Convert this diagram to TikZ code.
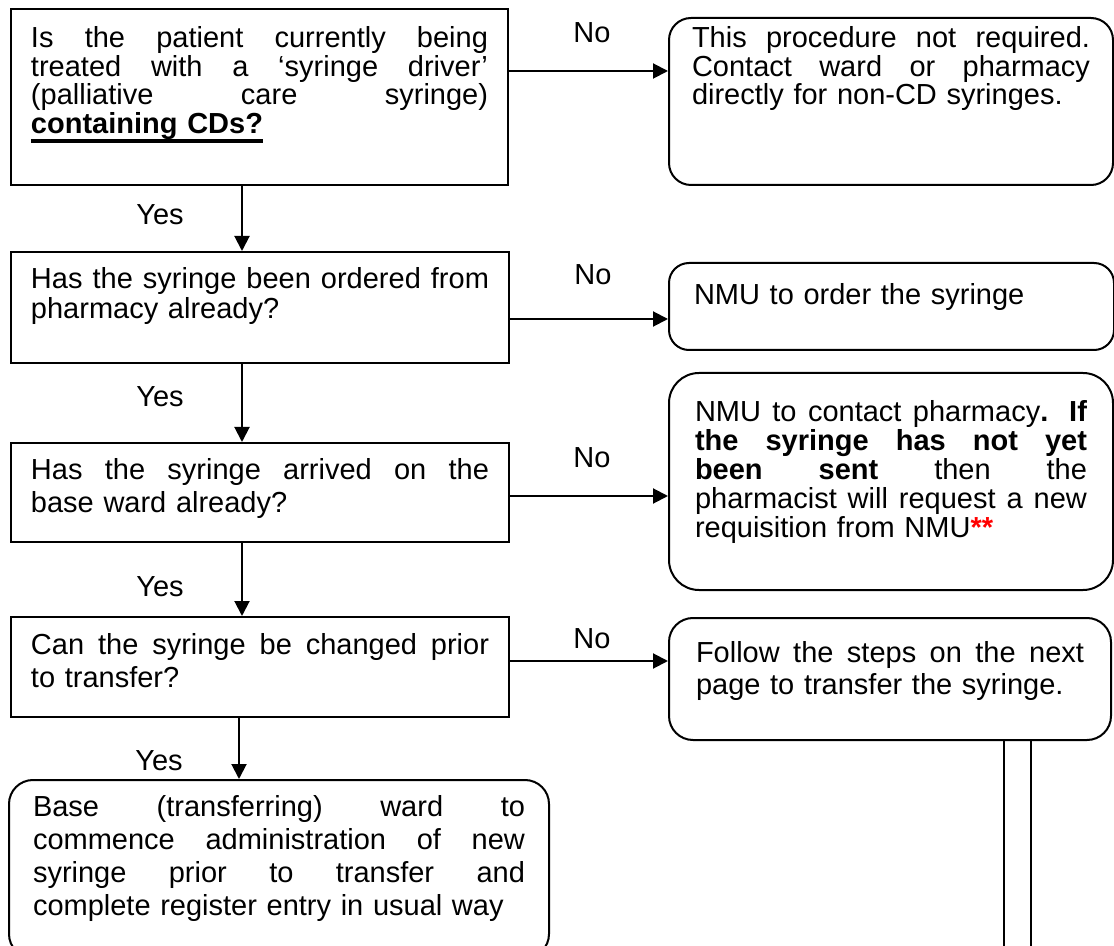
\documentclass[tikz,border=0pt]{standalone}
\usepackage{fontspec}
\setmainfont{Liberation Sans}
\usetikzlibrary{arrows.meta}
\newcommand\jl[2]{\leavevmode\hbox to #1{\spaceskip=0pt\xspaceskip=0pt\relax #2}}
\newcommand\fs[1]{\fontsize{14.5pt}{#1}\selectfont}
\newcommand\thickul[1]{\leavevmode\setbox0\hbox{#1}\rlap{\rule[-4.6pt]{\wd0}{1.6pt}}\box0}
\begin{document}
\begin{tikzpicture}[x=0.5pt,y=-0.5pt,
  every node/.style={font=\fs{17pt}},
  box/.style={draw, line width=1pt, inner ysep=0pt, align=left, anchor=base west},
  arr/.style={line width=1pt, -{Triangle[length=7.5pt,width=7.5pt]}},
  lbl/.style={inner sep=0pt}]
\useasboundingbox (0,0) rectangle (1114,946);
\clip (0,0) rectangle (1114,946);

% left column
\node[box, font=\fs{14.25pt}, text width=228.5pt, inner xsep=10pt, text height=19.5pt, text depth=68.5pt] (q1) at (10,48)
 {\jl{228.5pt}{Is the patient currently being}\\
  \jl{228.5pt}{treated with a ‘syringe driver’}\\
  \jl{228.5pt}{(palliative care syringe)}\\
  \thickul{\textbf{containing CDs?}}};
\node[box, font=\fs{15pt}, text width=229pt, inner xsep=10pt, text height=18.5pt, text depth=37pt] (q2) at (10,289)
 {\jl{229pt}{Has the syringe been ordered from}\\
  pharmacy already?};
\node[box, font=\fs{16.5pt}, text width=229pt, inner xsep=10pt, text height=18.5pt, text depth=31pt] (q3) at (10,480)
 {\jl{229pt}{Has the syringe arrived on the}\\
  base ward already?};
\node[box, font=\fs{16.5pt}, text width=229pt, inner xsep=10pt, text height=18.5pt, text depth=31.5pt] (q4) at (10,654)
 {\jl{229pt}{Can the syringe be changed prior}\\
  to transfer?};
\node[box, font=\fs{16.5pt}, rounded corners=12pt, text width=246pt, inner xsep=12pt, text height=18pt, text depth=71pt] (r5) at (8,816)
 {\jl{246pt}{Base (transferring) ward to}\\
  \jl{246pt}{commence administration of new}\\
  \jl{246pt}{syringe prior to transfer and}\\
  complete register entry in usual way};

% right column
\node[box, font=\fs{14.25pt}, rounded corners=11pt, text width=199pt, inner xsep=11.5pt, text height=15pt, text depth=68.5pt] (r1) at (668,48)
 {\jl{199pt}{This procedure not required.}\\
  \jl{199pt}{Contact ward or pharmacy}\\
  directly for non-CD syringes.};
\node[box, rounded corners=10pt, text width=197.5pt, inner xsep=12.5pt, text height=21pt, text depth=22.5pt] (r2) at (668,305)
 {NMU to order the syringe};
\node[box, font=\fs{14.5pt}, rounded corners=15pt, text width=196pt, inner xsep=13pt, text height=24.5pt, text depth=84pt] (r3) at (668,422)
 {\jl{196pt}{NMU to contact pharmacy\textbf{. If}}\\
  \jl{196pt}{\textbf{the syringe has not yet}}\\
  \jl{196pt}{\textbf{been sent} then the}\\
  \jl{196pt}{pharmacist will request a new}\\
  requisition from NMU\textcolor{red}{\textbf{**}}};
\node[box, font=\fs{16pt}, rounded corners=12pt, text width=194pt, inner xsep=13.5pt, text height=22pt, text depth=39pt] (r4) at (668,662)
 {\jl{194pt}{Follow the steps on the next}\\
  page to transfer the syringe.};

% labels
\node[lbl] (no1) at (592,33) {No};
\node[lbl] (no2) at (593,275) {No};
\node[lbl] (no3) at (592,458) {No};
\node[lbl] (no4) at (592,639) {No};
\node[lbl] (yes1) at (160,215) {Yes};
\node[lbl] (yes2) at (160,397) {Yes};
\node[lbl] (yes3) at (160,587) {Yes};
\node[lbl] (yes4) at (159,761) {Yes};

% connectors
\draw[arr] (q1.east |- 0,71) -- (r1.west |- 0,71);
\draw[arr] (q2.east |- 0,319) -- (r2.west |- 0,319);
\draw[arr] (q3.east |- 0,496) -- (r3.west |- 0,496);
\draw[arr] (q4.east |- 0,661) -- (r4.west |- 0,661);
\draw[arr] (q1.south -| 242,0) -- (q2.north -| 242,0);
\draw[arr] (q2.south -| 242,0) -- (q3.north -| 242,0);
\draw[arr] (q3.south -| 242,0) -- (q4.north -| 242,0);
\draw[arr] (q4.south -| 239,0) -- (r5.north -| 239,0);

% double line leaving the last right box
\coordinate (e1) at (1004,946);
\coordinate (e2) at (1031,946);
\draw[line width=1pt] (r4.south -| e1) -- (e1);
\draw[line width=1pt] (r4.south -| e2) -- (e2);
\end{tikzpicture}
\end{document}
